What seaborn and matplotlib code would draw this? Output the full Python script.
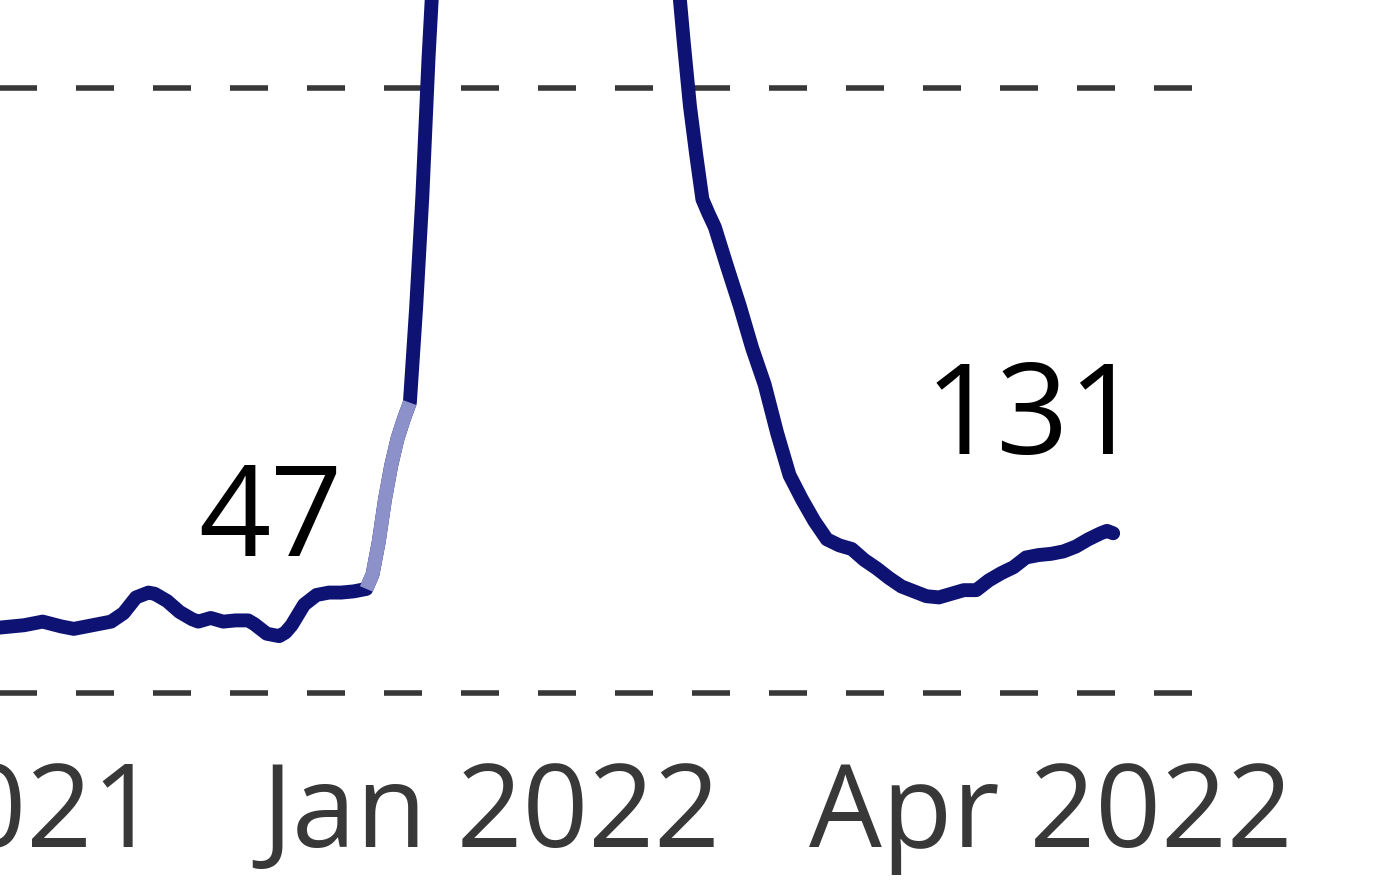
import matplotlib.pyplot as plt
import seaborn as sns
import pandas as pd
import matplotlib.dates as mdates

# daily-ish readings (date, value)
dates = [
    "2021-10-01", "2021-10-08", "2021-10-14", "2021-10-18", "2021-10-21", "2021-10-24",
    "2021-10-26", "2021-10-29", "2021-11-01", "2021-11-03", "2021-11-05", "2021-11-07",
    "2021-11-08", "2021-11-10", "2021-11-12", "2021-11-14", "2021-11-15", "2021-11-17",
    "2021-11-19", "2021-11-21", "2021-11-23", "2021-11-24", "2021-11-26", "2021-11-28",
    "2021-11-29", "2021-11-30", "2021-12-02", "2021-12-04", "2021-12-06", "2021-12-08",
    "2021-12-10", "2021-12-12", "2021-12-13", "2021-12-14", "2021-12-15", "2021-12-16",
    "2021-12-17", "2021-12-18", "2021-12-19", "2021-12-20", "2021-12-21", "2021-12-22",
    "2021-12-23", "2021-12-25", "2021-12-28", "2022-01-01", "2022-01-06", "2022-01-13",
    "2022-01-21", "2022-01-27", "2022-01-29", "2022-01-31", "2022-02-01", "2022-02-02",
    "2022-02-03", "2022-02-04", "2022-02-05", "2022-02-06", "2022-02-08", "2022-02-10",
    "2022-02-12", "2022-02-14", "2022-02-16", "2022-02-18", "2022-02-20", "2022-02-22",
    "2022-02-24", "2022-02-26", "2022-02-28", "2022-03-02", "2022-03-04", "2022-03-06",
    "2022-03-08", "2022-03-10", "2022-03-12", "2022-03-14", "2022-03-16", "2022-03-18",
    "2022-03-20", "2022-03-22", "2022-03-24", "2022-03-26", "2022-03-28", "2022-03-30",
    "2022-04-01", "2022-04-03", "2022-04-05", "2022-04-07", "2022-04-09", "2022-04-10",
    "2022-04-11",
]
values = [
    55, 56, 54, 56, 59, 55,
    53, 56, 59, 66, 79, 83,
    82, 76, 67, 61, 59, 62,
    59, 60, 60, 57, 49, 47,
    50, 56, 73, 81, 83, 83,
    84, 86, 98, 125, 160, 188,
    210, 226, 240, 318, 410, 525,
    620, 760, 900, 980, 1000, 950,
    820, 680, 720, 595, 538, 485,
    445, 408, 396, 385, 352, 320,
    285, 255, 215, 180, 160, 142,
    127, 122, 119, 110, 103, 95,
    88, 84, 80, 79, 82, 85,
    85, 93, 99, 104, 112, 114,
    115, 117, 121, 127, 132, 134,
    132,
]
# stretch drawn in the lighter shade
light_start = "2021-12-12"
light_end = "2021-12-19"

tick_dates = ["2021-10-01", "2022-01-01", "2022-04-01"]
grid_values = [0, 500]

navy = "#0e1272"
light = "#8d91c9"

sns.set_theme(style="white")
plt.rcParams["font.family"] = ["Open Sans", "DejaVu Sans"]

df = pd.DataFrame({"date": pd.to_datetime(dates), "value": values})
df_light = df[(df["date"] >= light_start) & (df["date"] <= light_end)]

fig = plt.figure(figsize=(14, 8.84), dpi=100)
ax = fig.add_axes([-157 / 1400, (884 - 705) / 884, 1357 / 1400, 705 / 884])

for g in grid_values:
    ax.axhline(g, color="#383838", linewidth=4, linestyle=(0, (6.84, 7.02)), zorder=1)

sns.lineplot(data=df, x="date", y="value", ax=ax, color=navy, lw=10,
             solid_capstyle="round", solid_joinstyle="round", zorder=3)
sns.lineplot(data=df_light, x="date", y="value", ax=ax, color=light, lw=10,
             solid_capstyle="butt", solid_joinstyle="round", zorder=4)

jan1 = pd.Timestamp("2022-01-01")
ax.set_xlim(jan1 + pd.Timedelta(days=-104.08), jan1 + pd.Timedelta(days=113.95))
ax.set_ylim((693 - 705) / 1.21, 693 / 1.21)

ax.set_xticks(pd.to_datetime(tick_dates))
ax.xaxis.set_major_formatter(mdates.DateFormatter("%b %Y"))
ax.tick_params(axis="x", length=0, pad=39, labelsize=83, labelcolor="#383838")
ax.set_yticks([])
ax.set_xlabel("")
ax.set_ylabel("")
for s in ax.spines.values():
    s.set_visible(False)

ax.annotate("47", xy=(pd.Timestamp("2021-11-28"), 47), xytext=(-6.5, 58),
            textcoords="offset points", ha="center", va="baseline",
            fontsize=91, color="black")
ax.annotate("131", xy=(pd.Timestamp("2022-04-10"), 134), xytext=(-53, 55),
            textcoords="offset points", ha="center", va="baseline",
            fontsize=91, color="black")

fig.savefig("out.png", dpi=100)
